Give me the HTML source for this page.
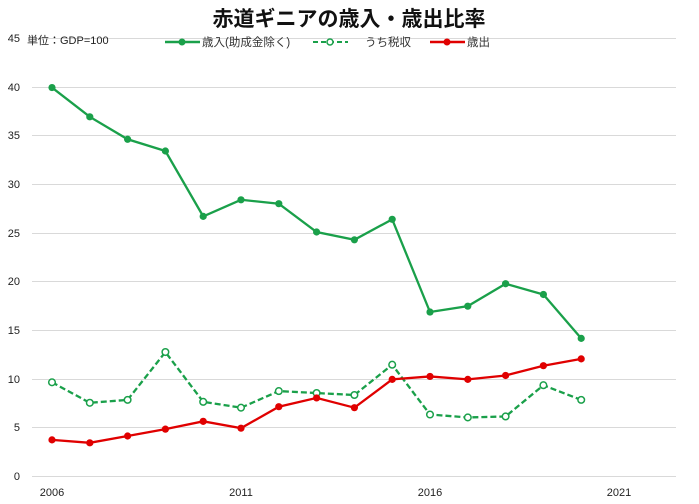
<!DOCTYPE html>
<html><head><meta charset="utf-8"><style>
body{margin:0;background:#fff;}
svg{display:block;font-family:"Liberation Sans","Noto Sans CJK JP",sans-serif;}
</style></head><body>
<svg id="c" width="699" height="504" xmlns="http://www.w3.org/2000/svg">
<rect width="699" height="504" fill="#fff"/>
<text x="349" y="26" font-size="21" font-weight="bold" text-anchor="middle" fill="#111">赤道ギニアの歳入・歳出比率</text>
<g stroke="#d9d9d9" stroke-width="1">
<line x1="32" x2="676" y1="38.5" y2="38.5"/>
<line x1="32" x2="676" y1="87.5" y2="87.5"/>
<line x1="32" x2="676" y1="135.5" y2="135.5"/>
<line x1="32" x2="676" y1="184.5" y2="184.5"/>
<line x1="32" x2="676" y1="233.5" y2="233.5"/>
<line x1="32" x2="676" y1="281.5" y2="281.5"/>
<line x1="32" x2="676" y1="330.5" y2="330.5"/>
<line x1="32" x2="676" y1="379.5" y2="379.5"/>
<line x1="32" x2="676" y1="427.5" y2="427.5"/>
<line x1="32" x2="676" y1="476.5" y2="476.5"/>
</g>
<g font-size="11" fill="#222" text-anchor="end">
<text x="20" y="42">45</text><text x="20" y="91">40</text><text x="20" y="139">35</text>
<text x="20" y="188">30</text><text x="20" y="237">25</text><text x="20" y="285">20</text>
<text x="20" y="334">15</text><text x="20" y="383">10</text><text x="20" y="431">5</text><text x="20" y="480">0</text>
</g>
<g font-size="11" fill="#222" text-anchor="middle">
<text x="52" y="496">2006</text><text x="241" y="496">2011</text><text x="430" y="496">2016</text><text x="619" y="496">2021</text>
</g>
<text x="27" y="44" font-size="11" fill="#222">単位：GDP=100</text>
<g font-size="11.5" fill="#333">
<line x1="165" x2="200" y1="42" y2="42" stroke="#1aa04a" stroke-width="2.5"/><circle cx="182" cy="42" r="3.5" fill="#1aa04a"/>
<text x="202" y="46">歳入(助成金除く)</text>
<line x1="313" x2="348" y1="42" y2="42" stroke="#1aa04a" stroke-width="2" stroke-dasharray="5,3"/><circle cx="330" cy="42" r="3" fill="#fff" stroke="#1aa04a" stroke-width="1.5"/>
<text x="365" y="46">うち税収</text>
<line x1="430" x2="465" y1="42" y2="42" stroke="#e00000" stroke-width="2.5"/><circle cx="447" cy="42" r="3.5" fill="#e00000"/>
<text x="467" y="46">歳出</text>
</g>
<g id="series"></g>
</svg>
<script>
const X=y=>52+(y)*37.8, Y=v=>476-v*9.76;
const rev=[39.8,36.8,34.5,33.3,26.6,28.3,27.9,25.0,24.2,26.3,16.8,17.4,19.7,18.6,14.1];
const tax=[9.6,7.5,7.8,12.7,7.6,7.0,8.7,8.5,8.3,11.4,6.3,6.0,6.1,9.3,7.8];
const exp=[3.7,3.4,4.1,4.8,5.6,4.9,7.1,8.0,7.0,9.9,10.2,9.9,10.3,11.3,12.0];
const g=document.getElementById('series');let s='';
function ser(d,c,dash,open){
 s+=`<polyline fill="none" stroke="${c}" stroke-width="2.3" ${dash?'stroke-dasharray="6,3"':''} points="${d.map((v,i)=>X(i)+','+Y(v)).join(' ')}"/>`;
 d.forEach((v,i)=>{s+=open?`<circle cx="${X(i)}" cy="${Y(v)}" r="3.3" fill="#fff" stroke="${c}" stroke-width="1.5"/>`:`<circle cx="${X(i)}" cy="${Y(v)}" r="3.6" fill="${c}"/>`;});
}
ser(tax,'#1aa04a',true,true);ser(exp,'#e00000',false,false);ser(rev,'#1aa04a',false,false);
g.innerHTML=s;
</script>
</body></html>
